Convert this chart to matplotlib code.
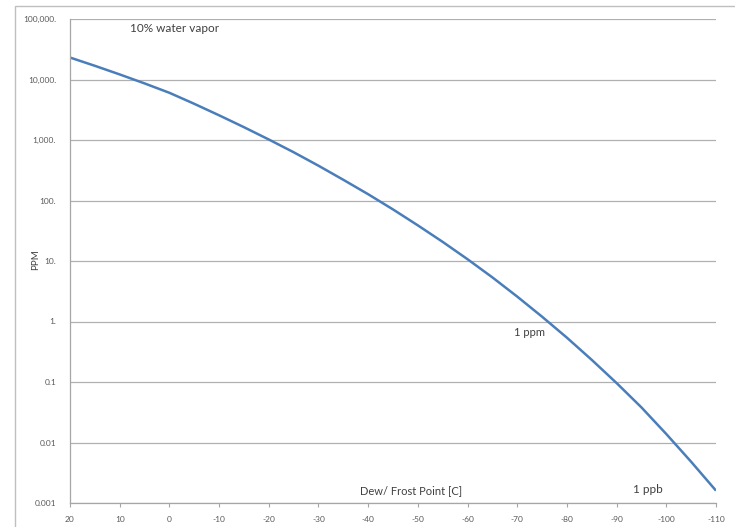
import matplotlib.pyplot as plt
from matplotlib.patches import Rectangle

# saturation water vapour in ppm (over water above 0 C, over ice below)
dew_point = [20, 15, 10, 5, 0, -5, -10, -15, -20, -25, -30, -35, -40, -45,
             -50, -55, -60, -65, -70, -75, -80, -85, -90, -95, -100, -105, -110]
ppm = [23080, 16840, 12130, 8620, 6030, 3965, 2560, 1630, 1020, 628, 376, 220,
       127, 71.2, 38.8, 20.7, 10.7, 5.36, 2.58, 1.20, 0.54, 0.232, 0.096,
       0.038, 0.0138, 0.0048, 0.0016]

x_ticks = list(range(20, -111, -10))
y_ticks = [1e5, 1e4, 1e3, 100, 10, 1, 0.1, 0.01, 0.001]
y_labels = ['100,000.', '10,000.', '1,000.', '100.', '10.', '1.', '0.1', '0.01', '0.001']

plt.rcParams['font.family'] = ['Lato', 'DejaVu Sans']
grey = '#a6a6a6'
txt = '#404040'
tick_txt = '#595959'

fig = plt.figure(figsize=(7.35, 5.27), dpi=100)
fig.patches.append(Rectangle((15 / 735, -0.1), 1.2, 1 - 6 / 527 + 0.1,
                             transform=fig.transFigure, fill=False,
                             edgecolor='#bfbfbf', linewidth=1.0))
ax = fig.add_axes([70 / 735, 24 / 527, 646 / 735, 484 / 527])

ax.plot(dew_point, ppm, color='#4a7ebb', linewidth=1.8, solid_capstyle='butt')

ax.set_yscale('log')
ax.set_xlim(20, -110)
ax.set_ylim(0.001, 1e5)
ax.set_xticks(x_ticks)
ax.set_xticklabels([str(v) for v in x_ticks])
ax.set_yticks(y_ticks)
ax.set_yticklabels(y_labels)
ax.minorticks_off()
ax.tick_params(axis='y', length=0, pad=10, labelsize=6, labelcolor=tick_txt)
ax.tick_params(axis='x', length=3, width=0.8, color=grey, pad=6,
               labelsize=6, labelcolor=tick_txt)

ax.grid(axis='y', color='#b0b0b0', linewidth=0.9)
ax.set_axisbelow(True)
for side in ['top', 'right']:
    ax.spines[side].set_visible(False)
for side in ['left', 'bottom']:
    ax.spines[side].set_color(grey)
    ax.spines[side].set_linewidth(0.9)

ax.text(-1, 7e4, '10% water vapor', fontsize=8.5, color=txt, ha='center', va='center')
ax.text(-72.4, 0.67, '1 ppm', fontsize=8, color=txt, ha='center', va='center')
ax.text(-96.3, 0.0017, '1 ppb', fontsize=8.5, color=txt, ha='center', va='center')
ax.text(-48.6, 0.0016, 'Dew/ Frost Point [C]', fontsize=8, color=txt, ha='center', va='center')
fig.text(36 / 735, 1 - 260 / 527, 'PPM', fontsize=7, color=txt, rotation=90,
         ha='center', va='center')

fig.savefig('out.png', dpi=100)
